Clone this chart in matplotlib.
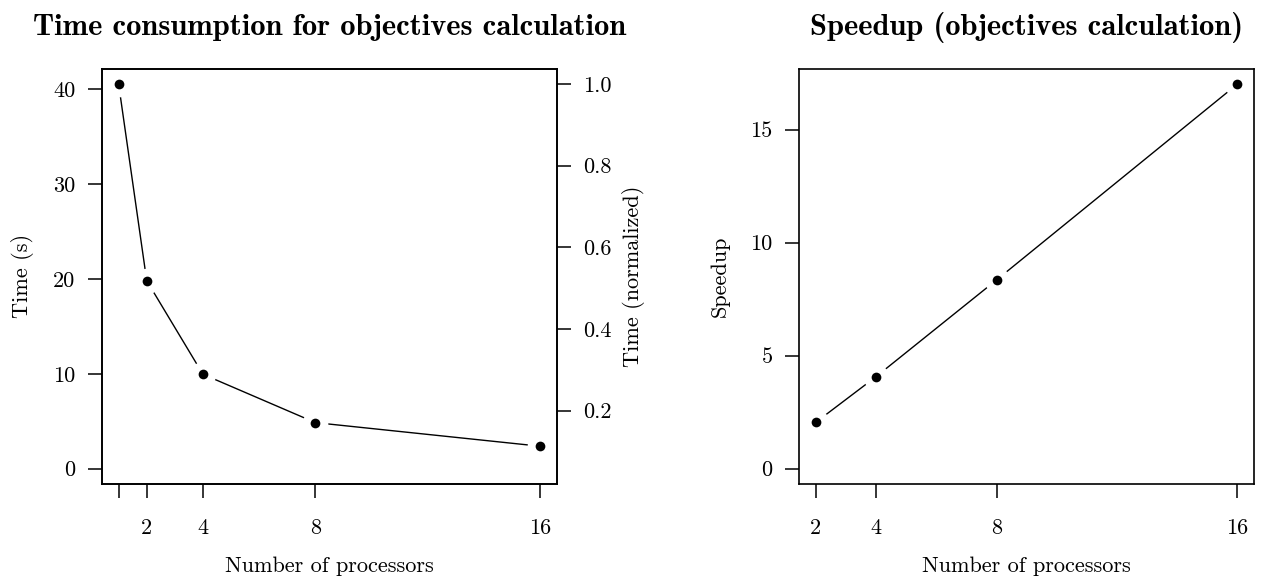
import numpy as np
from matplotlib import pyplot as plt

plt.rcParams['font.family'] = ['cmr10', 'DejaVu Serif']
plt.rcParams['axes.formatter.use_mathtext'] = True

# measured run times (seconds) per processor count
procs = np.array([1, 2, 4, 8, 16])
times = np.array([40.56, 19.82, 9.95, 4.85, 2.36])

# speedup relative to the single-processor run
speedup_procs = np.array([2, 4, 8, 16])
speedup = np.array([2.05, 4.07, 8.35, 17.02])

time_ticks = [0, 10, 20, 30, 40]
norm_ticks = [0.2, 0.4, 0.6, 0.8, 1.0]
norm_tick_labels = ['0.2', '0.4', '0.6', '0.8', '1.0']
speedup_ticks = [0, 5, 10, 15]
x_tick_labels = ['', '2', '4', '8', '16']

font_size = 16
title_size = 22


def rRange(lo, hi):
    # R-style axis range: 4% padding at both ends
    pad = (hi - lo) * 0.04
    return lo - pad, hi + pad


def styleAxes(ax):
    for sp in ax.spines.values():
        sp.set_linewidth(1.2)
    ax.tick_params(direction='out', length=10, width=1.1, labelsize=font_size, pad=9)
    ax.tick_params(axis='x', pad=15)


def drawSeries(ax, x, y):
    # line with gaps around the points, like R's type="b"
    ax.plot(x, y, color='black', lw=1.0, zorder=2)
    ax.plot(x, y, 'o', color='white', ms=18.5, mew=0, zorder=3)
    ax.plot(x, y, 'o', color='black', ms=7.0, mew=0, zorder=4)


fig = plt.figure(figsize=(12.67, 5.77), dpi=100)
ax1 = fig.add_axes([0.0803, 0.1612, 0.3594, 0.7198])
ax3 = fig.add_axes([0.6306, 0.1612, 0.3594, 0.7198])

# left: absolute time with a normalized scale on the right
drawSeries(ax1, procs, times)
ax1.set_xlim(*rRange(procs.min(), procs.max()))
ax1.set_ylim(*rRange(0, times.max()))
ax1.set_xticks(procs)
ax1.set_xticklabels(x_tick_labels)
ax1.set_yticks(time_ticks)
ax1.set_yticklabels([str(t) for t in time_ticks])
styleAxes(ax1)
ax1.set_title('Time consumption for objectives calculation', fontsize=title_size,
              family='cmb10', pad=24)
ax1.set_xlabel('Number of processors', fontsize=font_size, va='center')
ax1.xaxis.set_label_coords(0.5, -0.197)
ax1.set_ylabel('Time (s)', fontsize=font_size, va='center')
ax1.yaxis.set_label_coords(-0.173, 0.5)

normed = times / times[0]
ax2 = ax1.twinx()
ax2.set_ylim(*rRange(normed.min(), normed.max()))
ax2.set_yticks(norm_ticks)
ax2.set_yticklabels(norm_tick_labels)
styleAxes(ax2)
ax2.set_ylabel('Time (normalized)', fontsize=font_size, va='center', rotation=90)
ax2.yaxis.set_label_coords(1.167, 0.5)

# right: speedup
drawSeries(ax3, speedup_procs, speedup)
ax3.set_xlim(*rRange(speedup_procs.min(), speedup_procs.max()))
ax3.set_ylim(*rRange(0, speedup.max()))
ax3.set_xticks(speedup_procs)
ax3.set_xticklabels([str(p) for p in speedup_procs])
ax3.set_yticks(speedup_ticks)
ax3.set_yticklabels([str(s) for s in speedup_ticks])
styleAxes(ax3)
ax3.set_title('Speedup (objectives calculation)', fontsize=title_size,
              family='cmb10', pad=24)
ax3.set_xlabel('Number of processors', fontsize=font_size, va='center')
ax3.xaxis.set_label_coords(0.5, -0.197)
ax3.set_ylabel('Speedup', fontsize=font_size, va='center')
ax3.yaxis.set_label_coords(-0.173, 0.5)

fig.savefig('out.png', dpi=100)
